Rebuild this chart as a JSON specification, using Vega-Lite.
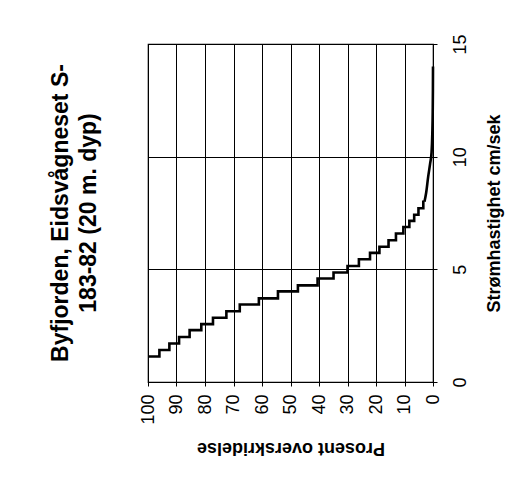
{
  "$schema": "https://vega.github.io/schema/vega-lite/v6.json",
  "width": 285,
  "height": 338,
  "autosize": {"type": "none"},
  "padding": {"left": 148, "top": 44, "right": 98, "bottom": 107},
  "background": "white",
  "config": {
    "font": "Liberation Sans",
    "view": {"stroke": "black", "strokeWidth": 1.2},
    "axis": {
      "domainColor": "black",
      "tickColor": "black",
      "gridColor": "black",
      "gridOpacity": 1,
      "gridWidth": 1,
      "labelColor": "black",
      "titleColor": "black",
      "labelFont": "Liberation Sans",
      "titleFont": "Liberation Sans",
      "labelFontSize": 18,
      "titleFontSize": 18,
      "titleFontWeight": "bold",
      "tickSize": 4,
      "labelFlush": false,
      "labelOverlap": false
    }
  },
  "title": {
    "text": ["Byfjorden, Eidsvågneset  S-", "183-82 (20 m. dyp)"],
    "orient": "left",
    "anchor": "middle",
    "fontSize": 23,
    "fontWeight": "bold",
    "font": "Liberation Sans",
    "color": "black",
    "lineHeight": 28,
    "offset": 38
  },
  "datasets": {
    "steps": [
      {"i": 1, "pct": 100, "speed": 1.13},
      {"i": 2, "pct": 96.0, "speed": 1.42},
      {"i": 3, "pct": 92.5, "speed": 1.71},
      {"i": 4, "pct": 89.1, "speed": 2.0},
      {"i": 5, "pct": 85.4, "speed": 2.3},
      {"i": 6, "pct": 81.3, "speed": 2.57},
      {"i": 7, "pct": 77.2, "speed": 2.85},
      {"i": 8, "pct": 72.5, "speed": 3.14},
      {"i": 9, "pct": 67.8, "speed": 3.44},
      {"i": 10, "pct": 61.1, "speed": 3.71},
      {"i": 11, "pct": 54.4, "speed": 4.02},
      {"i": 12, "pct": 47.4, "speed": 4.29},
      {"i": 13, "pct": 40.5, "speed": 4.59},
      {"i": 14, "pct": 34.9, "speed": 4.86},
      {"i": 15, "pct": 30.0, "speed": 5.15},
      {"i": 16, "pct": 26.0, "speed": 5.45},
      {"i": 17, "pct": 22.1, "speed": 5.73},
      {"i": 18, "pct": 18.8, "speed": 6.0},
      {"i": 19, "pct": 15.6, "speed": 6.29},
      {"i": 20, "pct": 13.0, "speed": 6.59},
      {"i": 21, "pct": 10.4, "speed": 6.88},
      {"i": 22, "pct": 8.3, "speed": 7.15},
      {"i": 23, "pct": 6.6, "speed": 7.42},
      {"i": 24, "pct": 5.1, "speed": 7.71},
      {"i": 25, "pct": 3.4, "speed": 8.0},
      {"i": 26, "pct": 3.0, "speed": 8.0}
    ],
    "tail": [
      {"i": 1, "pct": 3.0, "speed": 8.0},
      {"i": 2, "pct": 2.4, "speed": 8.4},
      {"i": 3, "pct": 1.7, "speed": 9.1},
      {"i": 4, "pct": 1.0, "speed": 9.7},
      {"i": 5, "pct": 0.5, "speed": 10.2},
      {"i": 6, "pct": 0.25, "speed": 11.0},
      {"i": 7, "pct": 0.1, "speed": 12.0},
      {"i": 8, "pct": 0.03, "speed": 13.0},
      {"i": 9, "pct": 0.0, "speed": 14.0}
    ]
  },
  "encoding": {
    "x": {
      "field": "pct",
      "type": "quantitative",
      "scale": {"domain": [0, 100], "reverse": true, "nice": false, "zero": false},
      "axis": {
        "values": [0, 10, 20, 30, 40, 50, 60, 70, 80, 90, 100],
        "title": "Prosent overskridelse",
        "titleAngle": 180,
        "titleBaseline": "bottom",
        "titlePadding": 14,
        "labelAngle": -90,
        "labelPadding": 8,
        "grid": true
      }
    },
    "y": {
      "field": "speed",
      "type": "quantitative",
      "scale": {"domain": [0, 15], "nice": false},
      "axis": {
        "orient": "right",
        "values": [0, 5, 10, 15],
        "title": "Strømhastighet cm/sek",
        "titleAngle": -90,
        "titleBaseline": "top",
        "titlePadding": 16,
        "labelAngle": -90,
        "labelAlign": "center",
        "labelBaseline": "top",
        "labelPadding": 14,
        "grid": true
      }
    },
    "order": {"field": "i", "type": "quantitative"}
  },
  "layer": [
    {
      "data": {"name": "steps"},
      "mark": {"type": "line", "interpolate": "step-after", "color": "black", "strokeWidth": 2.6}
    },
    {
      "data": {"name": "tail"},
      "mark": {"type": "line", "interpolate": "monotone", "color": "black", "strokeWidth": 2.6}
    }
  ]
}
